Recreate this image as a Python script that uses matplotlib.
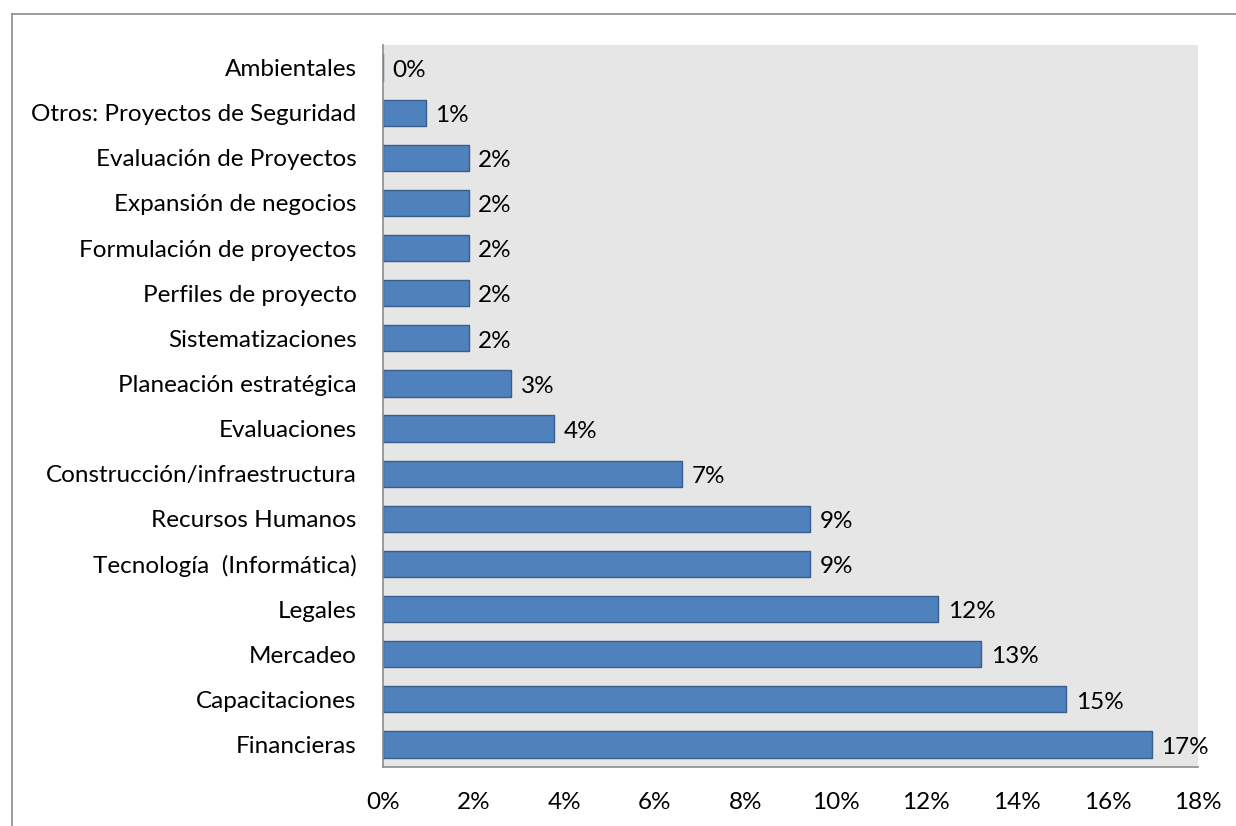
import matplotlib
matplotlib.use("Agg")
import matplotlib.pyplot as plt
from matplotlib.ticker import FuncFormatter
from matplotlib.lines import Line2D
import numpy as np

# categories from bottom to top
categories = ["Financieras", "Capacitaciones", "Mercadeo", "Legales",
              "Tecnología  (Informática)", "Recursos Humanos",
              "Construcción/infraestructura", "Evaluaciones",
              "Planeación estratégica", "Sistematizaciones",
              "Perfiles de proyecto", "Formulación de proyectos",
              "Expansión de negocios", "Evaluación de Proyectos",
              "Otros: Proyectos de Seguridad", "Ambientales"]
values = [16.98, 15.09, 13.21, 12.26, 9.43, 9.43, 6.60, 3.77,
          2.83, 1.89, 1.89, 1.89, 1.89, 1.89, 0.94, 0.0]
labels = ["17%", "15%", "13%", "12%", "9%", "9%", "7%", "4%",
          "3%", "2%", "2%", "2%", "2%", "2%", "1%", "0%"]
xticks = [0, 2, 4, 6, 8, 10, 12, 14, 16, 18]

plt.rcParams['font.family'] = ['Lato', 'DejaVu Sans']
FS = 17.5

fig = plt.figure(figsize=(12.36, 8.26), dpi=100)
ax = fig.add_axes([383 / 1236, 1 - 767 / 826, (1198 - 383) / 1236, (767 - 45) / 826])
ax.set_facecolor('#E6E6E6')

y = np.arange(len(categories))
ax.barh(y, values, height=0.58, color='#4F81BD', edgecolor='#385D8A', linewidth=1)

for yi, v, lab in zip(y, values, labels):
    ax.annotate(lab, (v, yi), xytext=(7, -2), textcoords='offset points',
                ha='left', va='center', fontsize=FS, color='black')

ax.set_xlim(0, 18)
ax.set_ylim(-0.5, len(categories) - 0.5)
ax.set_xticks(xticks)
ax.xaxis.set_major_formatter(FuncFormatter(lambda v, p: f"{v:.0f}%"))
ax.set_yticks(y)
ax.set_yticklabels(categories)
ax.tick_params(axis='both', length=0, labelsize=FS)
ax.tick_params(axis='y', pad=19)
ax.tick_params(axis='x', pad=18)

for s in ['top', 'right']:
    ax.spines[s].set_visible(False)
for s in ['left', 'bottom']:
    ax.spines[s].set_color('#8C8C8C')
    ax.spines[s].set_linewidth(1.2)

# outer chart border (only top and left visible in the crop)
fig.add_artist(Line2D([12 / 1236, 12 / 1236], [0, 1 - 14 / 826],
                      transform=fig.transFigure, color='#8C8C8C', lw=1.2))
fig.add_artist(Line2D([12 / 1236, 1], [1 - 14 / 826, 1 - 14 / 826],
                      transform=fig.transFigure, color='#8C8C8C', lw=1.2))

fig.savefig("out.png", dpi=100)
